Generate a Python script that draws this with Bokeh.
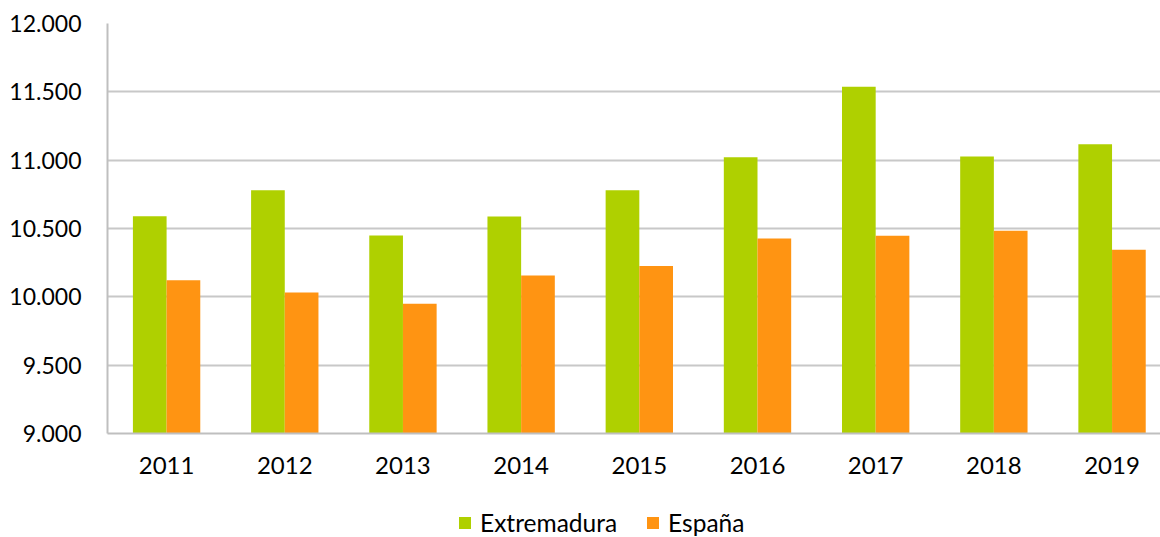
import numpy as np
from bokeh.plotting import figure
from bokeh.layouts import column
from bokeh.models import Range1d, FixedTicker, Legend, LegendItem, ColumnDataSource
from bokeh.embed import file_html
from bokeh.resources import INLINE

years = ["2011", "2012", "2013", "2014", "2015", "2016", "2017", "2018", "2019"]
extremadura = [10590, 10780, 10449, 10588, 10780, 11021, 11538, 11026, 11116]
espana = [10122, 10032, 9950, 10157, 10225, 10427, 10447, 10483, 10344]
y_ticks = [9000, 9500, 10000, 10500, 11000, 11500, 12000]
y_tick_labels = ["9.000", "9.500", "10.000", "10.500", "11.000", "11.500", "12.000"]
series_names = ["Extremadura", "España"]

GREEN = "#AFD000"
ORANGE = "#FF9412"
FONT = "Lato"

centers = np.arange(len(years)) + 0.5
bw = 0.285

src = ColumnDataSource(dict(
    x_ext=centers - bw / 2,
    x_esp=centers + bw / 2,
    ext=extremadura,
    esp=espana,
))

p = figure(width=1160, height=490, output_backend="svg", toolbar_location=None,
           x_range=Range1d(0, 8.91), y_range=Range1d(9000, 12000),
           min_border_left=107, min_border_right=0, min_border_top=23,
           min_border_bottom=57)
p.outline_line_color = None
p.background_fill_color = "white"

r1 = p.vbar(x="x_ext", top="ext", bottom=9000, width=bw, source=src,
            fill_color=GREEN, line_color=None)
r2 = p.vbar(x="x_esp", top="esp", bottom=9000, width=bw, source=src,
            fill_color=ORANGE, line_color=None)

# y axis
p.yaxis.ticker = FixedTicker(ticks=y_ticks)
p.yaxis.major_label_overrides = {t: l for t, l in zip(y_ticks, y_tick_labels)}
p.yaxis.major_tick_line_color = None
p.yaxis.minor_tick_line_color = None
p.yaxis.major_tick_out = 0
p.yaxis.major_tick_in = 0
p.yaxis.major_label_standoff = 26
p.yaxis.axis_line_color = "#BFBFBF"
p.yaxis.axis_line_width = 2
p.yaxis.major_label_text_font = FONT
p.yaxis.major_label_text_font_size = "23px"
p.yaxis.major_label_text_color = "#000000"

# x axis
p.xaxis.ticker = FixedTicker(ticks=list(centers))
p.xaxis.major_label_overrides = {float(c): y for c, y in zip(centers, years)}
p.xaxis.major_tick_line_color = None
p.xaxis.minor_tick_line_color = None
p.xaxis.major_tick_out = 0
p.xaxis.major_tick_in = 0
p.xaxis.major_label_standoff = 23
p.xaxis.axis_line_color = "#BFBFBF"
p.xaxis.axis_line_width = 2
p.xaxis.major_label_text_font = FONT
p.xaxis.major_label_text_font_size = "24px"
p.xaxis.major_label_text_color = "#000000"

p.xgrid.grid_line_color = None
p.ygrid.grid_line_color = "#C8C8C8"
p.ygrid.grid_line_width = 2

# legend strip (frame aligned with the main plot's frame)
lg = figure(width=1160, height=47, output_backend="svg", toolbar_location=None,
            x_range=Range1d(0, 1), y_range=Range1d(0, 1),
            min_border=0, min_border_left=0, min_border_right=0,
            min_border_top=0, min_border_bottom=0)
lg.axis.visible = False
lg.grid.visible = False
lg.outline_line_color = None
e1 = lg.vbar(x=[-5], top=[-5], bottom=-6, width=0.1, fill_color=GREEN, line_color=None)
e2 = lg.vbar(x=[-5], top=[-5], bottom=-6, width=0.1, fill_color=ORANGE, line_color=None)

legend = Legend(items=[LegendItem(label=series_names[0], renderers=[e1]),
                       LegendItem(label=series_names[1], renderers=[e2])],
                orientation="horizontal", location=(350, 0),
                glyph_width=15, glyph_height=15, label_standoff=8, spacing=28,
                padding=0, margin=0, border_line_color=None,
                background_fill_alpha=0,
                label_text_font=FONT, label_text_font_size="24.5px",
                label_text_color="#000000", label_height=20)
lg.add_layout(legend, "center")

layout = column(p, lg, spacing=0)
open("out.html", "w").write(file_html(layout, INLINE))
